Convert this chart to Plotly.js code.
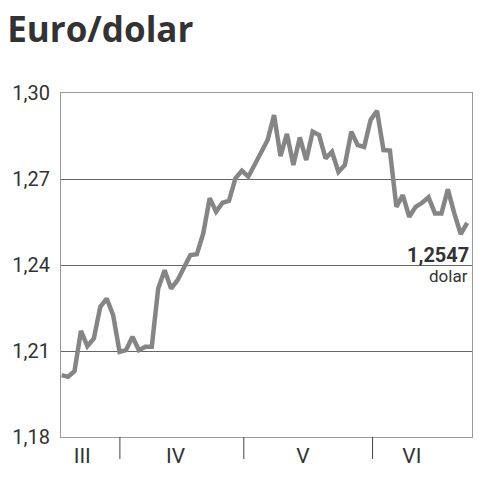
<!DOCTYPE html>
<html>
<head>
<meta charset="utf-8">
<script src="https://cdn.plot.ly/plotly-3.0.1.min.js"></script>
<style>html,body{margin:0;padding:0;background:#fff;}#chart{width:480px;height:480px;}</style>
</head>
<body>
<div id="chart"></div>
<script>
// Data (trading-day index, EUR/USD)
const rates = [1.2016,1.2010,1.2030,1.2170,1.2117,1.2144,1.2254,1.2283,1.2225,1.2097,
  1.2103,1.2150,1.2103,1.2115,1.2115,1.2318,1.2382,1.2318,1.2347,1.2394,
  1.2435,1.2438,1.2510,1.2633,1.2586,1.2617,1.2624,1.2702,1.2729,1.2708,
  1.2749,1.2790,1.2836,1.2923,1.2780,1.2857,1.2749,1.2845,1.2766,1.2865,
  1.2853,1.2772,1.2795,1.2725,1.2749,1.2865,1.2818,1.2812,1.2906,1.2938,
  1.2801,1.2799,1.2603,1.2644,1.2568,1.2603,1.2617,1.2636,1.2580,1.2580,
  1.2664,1.2580,1.2508,1.2547];
const days = rates.map((_, i) => i);
const monthLabels = ['III', 'IV', 'V', 'VI'];
const monthCenters = [3.2, 17.7, 37.5, 54.4];
const monthBreaks = [9.05, 28.3, 48.3];
const yTicks = [1.18, 1.21, 1.24, 1.27, 1.30];
const lastValueLabel = '1,2547';
const unitLabel = 'dolar';

const trace = {
  x: days, y: rates, type: 'scatter', mode: 'lines',
  line: {color: '#858585', width: 4.5, shape: 'linear'},
  hoverinfo: 'skip'
};

const shapes = monthBreaks.map(b => ({
  type: 'line', xref: 'x', yref: 'paper', x0: b, x1: b, y0: 0, y1: -0.064,
  line: {color: '#444', width: 1}
}));

const lastX = days[days.length - 1];
const lastY = rates[rates.length - 1];

const layout = {
  width: 480, height: 480,
  margin: {l: 61, r: 8, t: 93, b: 43},
  paper_bgcolor: '#fff', plot_bgcolor: '#fff',
  separators: ',.',
  showlegend: false,
  font: {family: 'Roboto, sans-serif', color: '#333'},
  title: {text: '<b>Euro/dolar</b>', x: 0.015, xanchor: 'left', y: 0.937, yanchor: 'middle',
    font: {family: '"Open Sans", sans-serif', size: 35, color: '#333'}},
  xaxis: {
    range: [-0.1, 63.75], tickvals: monthCenters, ticktext: monthLabels,
    ticks: '', showgrid: false, zeroline: false,
    showline: true, linecolor: '#999', linewidth: 1, mirror: true,
    tickfont: {size: 21, color: '#333'}, fixedrange: true
  },
  yaxis: {
    range: [1.18, 1.30], tickvals: yTicks, tickformat: '.2f',
    ticks: '', showgrid: true, gridcolor: '#666', gridwidth: 1, zeroline: false,
    showline: true, linecolor: '#999', linewidth: 1, mirror: true,
    tickfont: {size: 20, color: '#333'}, ticklabelstandoff: 6, fixedrange: true
  },
  shapes: shapes,
  annotations: [
    {x: 63.75, y: lastY, xref: 'x', yref: 'y', text: '<b>' + lastValueLabel + '</b>',
     showarrow: false, xanchor: 'right', yanchor: 'middle', xshift: -1, yshift: -32,
     font: {size: 20, color: '#333'}},
    {x: 63.75, y: lastY, xref: 'x', yref: 'y', text: unitLabel,
     showarrow: false, xanchor: 'right', yanchor: 'middle', xshift: -2, yshift: -53,
     font: {size: 17, color: '#333'}}
  ]
};

Plotly.newPlot('chart', [trace], layout, {displayModeBar: false, staticPlot: true});
</script>
</body>
</html>
